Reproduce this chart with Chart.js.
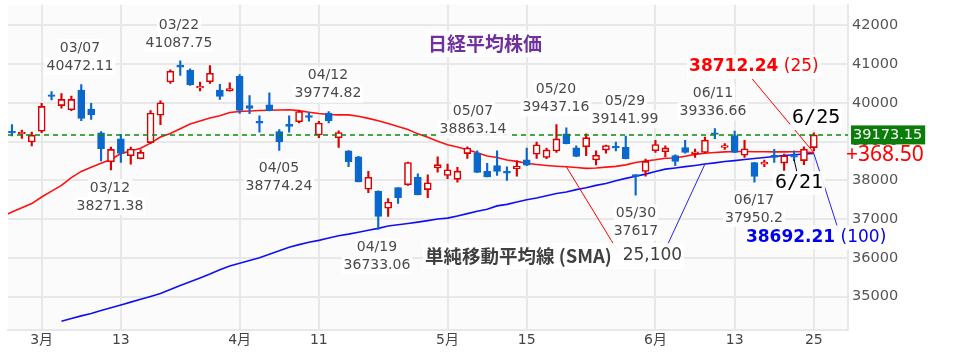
<!DOCTYPE html>
<html>
<head>
<meta charset="utf-8">
<script src="https://cdn.jsdelivr.net/npm/chart.js@4.4.1/dist/chart.umd.min.js"></script>
<style>
  html, body { margin: 0; padding: 0; background: #fff; }
  #caja { width: 967px; height: 355px; }
</style>
</head>
<body>
<div id="caja"><canvas id="grafica" width="967" height="355"></canvas></div>
<script>
// dias de negociacion (02/26 solo lleva la media de 25)
const fechas = ["02/26","02/27","02/28","02/29","03/01","03/04","03/05","03/06","03/07","03/08",
  "03/11","03/12","03/13","03/14","03/15","03/18","03/19","03/21","03/22","03/25",
  "03/26","03/27","03/28","03/29","04/01","04/02","04/03","04/04","04/05","04/08",
  "04/09","04/10","04/11","04/12","04/15","04/16","04/17","04/18","04/19","04/22",
  "04/23","04/24","04/25","04/26","04/30","05/01","05/02","05/07","05/08","05/09",
  "05/10","05/13","05/14","05/15","05/16","05/17","05/20","05/21","05/22","05/23",
  "05/24","05/27","05/28","05/29","05/30","05/31","06/03","06/04","06/05","06/06",
  "06/07","06/10","06/11","06/12","06/13","06/14","06/17","06/18","06/19","06/20",
  "06/21","06/24","06/25"];

const apertura = [null, 39265, 39200, 38990, 39270, 40210, 39930, 39825, 40330, 39840,
  39225, 38480, 39075, 38635, 38560, 38975, 39680, 40540, 40975, 40840,
  40385, 40545, 40330, 40310, 40685, 39930, 39525, 39950, 39260, 39445,
  39510, 39670, 39170, 39740, 39100, 38760, 38610, 37770, 37725, 37280,
  37810, 37885, 38080, 37760, 38320, 38125, 38025, 38690, 38700, 38235,
  38380, 38235, 38300, 38530, 38675, 38590, 38760, 39200, 38840, 38865,
  38525, 38780, 38880, 38860, 38150, 38230, 38765, 38740, 38640, 38845,
  38690, 38720, 39230, 38850, 39155, 38650, 38460, 38420, 38645, 38446,
  38640, 38510, 38845];

const maximo = [null, 39440, 39300, 39245, 39990, 40290, 40240, 40175, 40472.11, 39990,
  39260, 38860, 39185, 38860, 38790, 39800, 40050, 40855, 41087.75, 40880,
  40540, 40965, 40480, 40520, 40730, 40186, 39667, 40262, 39310, 39667,
  39800, 39755, 39525, 39774.82, 39280, 38770, 38620, 38235, 37730, 37530,
  37815, 38470, 38166, 38145, 38610, 38420, 38335, 38863.14, 38760, 38440,
  38760, 38350, 38505, 38830, 38990, 38830, 39437.16, 39355, 38890, 39200,
  38760, 38910, 38990, 39141.99, 38150, 38550, 39030, 38890, 38660, 39030,
  38810, 39115, 39336.66, 38950, 39270, 39030, 38465, 38525, 38800, 38680,
  38760, 38863, 39226];

const minimo = [null, 39150, 39080, 38890, 39230, 40075, 39865, 39800, 39540, 39570,
  38500, 38271.38, 38465, 38420, 38550, 38955, 39440, 40500, 40710, 40450,
  40310, 40500, 40090, 40300, 39730, 39720, 39245, 39795, 38774.24, 39245,
  39480, 39525, 39100, 39480, 38850, 38355, 37960, 37680, 36733.06, 37065,
  37405, 37870, 37625, 37555, 38210, 38040, 37955, 38565, 38200, 38085,
  38125, 38000, 38110, 38380, 38565, 38560, 38718, 38940, 38610, 38635,
  38400, 38700, 38760, 38550, 37617, 38110, 38720, 38610, 38380, 38700,
  38590, 38715, 39075, 38800, 38715, 38590, 37950.2, 38355, 38465, 38255,
  38505, 38405, 38760];

const cierre = [null, 39225, 39245, 39166, 39910, 40165, 40090, 40090, 39600, 39690,
  38820, 38800, 38696, 38807, 38720, 39740, 40004, 40815, 40925, 40470,
  40430, 40763, 40168, 40370, 39803, 39860, 39475, 39800, 38992, 39395,
  39775, 39625, 39480, 39540, 39235, 38480, 37962, 38080, 37068, 37438,
  37552, 38460, 37628, 37935, 38405, 38274, 38236, 38835, 38202, 38090,
  38229, 38185, 38370, 38390, 38920, 38787, 39070, 38950, 38617, 39103,
  38646, 38900, 38840, 38557, 38100, 38488, 38923, 38837, 38490, 38720,
  38735, 39038, 39185, 38895, 38720, 38815, 38102, 38470, 38590, 38633,
  38595, 38805, 39173.15];

const sma25 = [37060, 37180, 37290, 37400, 37570, 37720, 37870, 38070, 38230, 38340,
  38440, 38540, 38690, 38760, 38830, 38960, 39120, 39210, 39330, 39455,
  39530, 39608, 39670, 39750, 39779, 39790, 39804, 39810, 39815, 39821,
  39800, 39760, 39725, 39700, 39690, 39690, 39655, 39600, 39540, 39470,
  39390, 39310, 39200, 39110, 39010, 38920, 38860, 38790, 38710, 38630,
  38590, 38525, 38490, 38440, 38410, 38385, 38365, 38350, 38330, 38310,
  38320, 38340, 38360, 38400, 38460, 38500, 38530, 38570, 38575, 38620,
  38670, 38700, 38718, 38735, 38743, 38743, 38740, 38738, 38735, 38735,
  38738, 38740, 38712.24];

const sma100 = [null, null, null, null, null, null, 34360, 34430, 34500, 34560,
  34640, 34710, 34780, 34855, 34930, 35000, 35075, 35180, 35285, 35380,
  35478, 35580, 35690, 35790, 35860, 35930, 36000, 36090, 36180, 36270,
  36340, 36400, 36450, 36510, 36570, 36610, 36660, 36710, 36760, 36820,
  36855, 36885, 36920, 36960, 37000, 37025, 37080, 37140, 37200, 37255,
  37340, 37380, 37440, 37500, 37545, 37600, 37660, 37700, 37760, 37810,
  37870, 37920, 37990, 38050, 38105, 38160, 38230, 38290, 38320, 38355,
  38385, 38420, 38450, 38485, 38510, 38540, 38565, 38590, 38615, 38640,
  38660, 38680, 38692.21];

const fechasEje = ["03/01","03/13","04/01","04/11","05/01","05/15","06/03","06/13","06/25"];
const etiquetasEje = ["3月","13","4月","11","5月","15","6月","13","25"];
const valoresEje = [35000, 36000, 37000, 38000, 39000, 40000, 41000, 42000];

const marcas = [["03/07","40472.11"],["03/22","41087.75"],["03/12","38271.38"],["04/05","38774.24"],
  ["04/12","39774.82"],["05/07","38863.14"],["04/19","36733.06"],["05/20","39437.16"],
  ["05/29","39141.99"],["06/11","39336.66"],["05/30","37617"],["06/17","37950.2"]];

const titulo = "日経平均株価";
const textoSMA = "単純移動平均線 (SMA)";
const periodosSMA = "25,100";
const cambio = "+368.50";

const ROJO = "#dd0000";
const AZUL = "#0a68cc";
const fuente = "'DejaVu Sans', 'Noto Sans CJK JP', sans-serif";
const fuenteJP = "'Noto Sans CJK JP', sans-serif";

const tickPos = fechasEje.map(f => fechas.indexOf(f));
const nUlt = fechas.length - 1;
const nCierre = cierre[nUlt];

let mechas = [], cuerpos = [], colMecha = [], colCuerpo = [], colBorde = [];
for (let k = 0; k < fechas.length; k++) {
  if (apertura[k] === null) continue;
  let sube = cierre[k] >= apertura[k];
  mechas.push({ x: k, y: [minimo[k], maximo[k]] });
  cuerpos.push({ x: k, y: [Math.min(apertura[k], cierre[k]), Math.max(apertura[k], cierre[k])] });
  colMecha.push(sube ? ROJO : AZUL);
  colBorde.push(sube ? ROJO : AZUL);
  colCuerpo.push(sube ? "#ffffff" : AZUL);
}
let linea25 = [], linea100 = [];
for (let k = 0; k < fechas.length; k++) {
  if (sma25[k] !== null) linea25.push({ x: k, y: sma25[k] });
  if (sma100[k] !== null) linea100.push({ x: k, y: sma100[k] });
}

// texto con fondo blanco, partes = [[texto, font, color], ...]
function texto(ctx, partes, x, y, alto, alinear) {
  let ancho = 0;
  partes.forEach(p => { ctx.font = p[1]; p.w = ctx.measureText(p[0]).width; ancho += p.w; });
  let x0 = alinear === "center" ? x - ancho / 2 : x;
  ctx.fillStyle = "rgba(255,255,255,0.9)";
  ctx.fillRect(x0 - 2, y - alto / 2, ancho + 4, alto);
  ctx.textAlign = "left";
  ctx.textBaseline = "middle";
  partes.forEach(p => { ctx.font = p[1]; ctx.fillStyle = p[2]; ctx.fillText(p[0], x0, y); x0 += p.w; });
}

const notas = {
  id: "notas",
  beforeDraw(chart) {
    const a = chart.chartArea, ctx = chart.ctx;
    ctx.save();
    ctx.fillStyle = "#fbfbfb";
    ctx.fillRect(a.left, a.top, a.right - a.left, a.bottom - a.top);
    ctx.restore();
  },
  afterDatasetsDraw(chart) {
    const ctx = chart.ctx, a = chart.chartArea;
    const px = v => chart.scales.x.getPixelForValue(v);
    const py = v => chart.scales.y.getPixelForValue(v);
    ctx.save();

    // linea del ultimo cierre
    ctx.strokeStyle = "#0a8a0a";
    ctx.lineWidth = 1.5;
    ctx.setLineDash([5, 4]);
    ctx.beginPath();
    ctx.moveTo(a.left, py(nCierre));
    ctx.lineTo(a.right, py(nCierre));
    ctx.stroke();
    ctx.setLineDash([]);

    // lineas guia
    const guia = (x1, y1, x2, y2, color) => {
      ctx.strokeStyle = color; ctx.lineWidth = 1;
      ctx.beginPath(); ctx.moveTo(px(x1), py(y1)); ctx.lineTo(px(x2), py(y2)); ctx.stroke();
    };
    guia(nUlt, sma25[nUlt], 75.75, 40626, "#ff0000");
    guia(nUlt, sma100[nUlt], 84.53, 36681, "#2222ee");
    guia(57, sma25[57], 62.2, 36172, "#ff0000");
    guia(71, sma100[71], 67.06, 36248, "#2222ee");
    guia(80, 38539, 80.3, 38208, "#000000");

    // maximos y minimos
    const posMarcas = [[7.87, 41415], [17.87, 42000], [10.9, 37800], [27.97, 38310],
      [32.92, 40702], [47.57, 39786], [37.87, 36274], [55.95, 40346],
      [62.92, 40040], [71.81, 40244], [64.03, 37139], [75.95, 37495]];
    marcas.forEach((m, i) => {
      let x = px(posMarcas[i][0]), y = py(posMarcas[i][1]);
      texto(ctx, [[m[0], "14px " + fuente, "#4a4a4a"]], x, y, 18, "center");
      texto(ctx, [[m[1], "14px " + fuente, "#4a4a4a"]], x, y + 18, 18, "center");
    });

    texto(ctx, [[titulo, "bold 19px " + fuenteJP, "#7030a0"]], px(48.78), py(41516), 26, "center");
    texto(ctx, [[sma25[nUlt].toFixed(2), "bold 17px " + fuente, "#ff0000"],
      [" (25)", "17px " + fuente, "#ff0000"]], px(69.4), py(40931), 24, "left");
    texto(ctx, [["6/25", "20px 'DejaVu Sans Mono', monospace", "#000000"]], px(79.8), py(39608), 24, "left");
    texto(ctx, [["6/21", "20px 'DejaVu Sans Mono', monospace", "#000000"]], px(78.07), py(37928), 24, "left");
    texto(ctx, [[sma100[nUlt].toFixed(2), "bold 17px " + fuente, "#0000ee"],
      [" (100)", "17px " + fuente, "#0000ee"]], px(75.14), py(36528), 24, "left");
    texto(ctx, [[textoSMA, "bold 18.5px " + fuenteJP, "#404040"],
      ["  " + periodosSMA, "17px " + fuente, "#404040"]], px(42.72), py(36045), 26, "left");

    // ultimo valor y variacion a la derecha
    let yc = py(nCierre);
    ctx.font = "14.5px " + fuente;
    let w = ctx.measureText(nCierre.toFixed(2)).width;
    ctx.fillStyle = "#0a7d0a";
    ctx.fillRect(a.right + 3, yc - 9.5, w + 5, 19);
    ctx.fillStyle = "#ffffff";
    ctx.textAlign = "left";
    ctx.textBaseline = "middle";
    ctx.fillText(nCierre.toFixed(2), a.right + 5, yc);
    ctx.font = "21px 'Noto Sans', sans-serif";
    ctx.fillStyle = "#ff0000";
    ctx.fillText(cambio, a.right - 2, yc + 20);

    ctx.restore();
  }
};

new Chart(document.getElementById("grafica"), {
  type: "bar",
  data: {
    datasets: [
      {
        type: "bar",
        label: "cuerpo",
        data: cuerpos,
        backgroundColor: colCuerpo,
        borderColor: colBorde,
        borderWidth: 1.6,
        borderSkipped: false,
        barThickness: 7,
        grouped: false,
        order: 0,
      },
      {
        type: "bar",
        label: "mecha",
        data: mechas,
        backgroundColor: colMecha,
        borderWidth: 0,
        barThickness: 1.5,
        grouped: false,
        order: 1,
      },
      {
        type: "line",
        label: "SMA25",
        data: linea25,
        borderColor: "#ff1010",
        borderWidth: 1.6,
        pointRadius: 0,
        fill: false,
        tension: 0,
        order: 2,
      },
      {
        type: "line",
        label: "SMA100",
        data: linea100,
        borderColor: "#1010f0",
        borderWidth: 1.6,
        pointRadius: 0,
        fill: false,
        tension: 0,
        order: 3,
      },
    ],
  },
  options: {
    responsive: false,
    animation: false,
    devicePixelRatio: 1,
    layout: { padding: { left: 8, right: 0, top: 0, bottom: 0 } },
    plugins: { legend: { display: false }, tooltip: { enabled: false }, title: { display: false } },
    scales: {
      x: {
        type: "linear",
        min: 0.6,
        max: 85.45,
        offset: false,
        grid: { color: "#e8e8e8", lineWidth: 2, drawTicks: false, offset: false },
        border: { display: true, color: "#e8e8e8", width: 2 },
        afterBuildTicks: s => { s.ticks = tickPos.map(v => ({ value: v })); },
        afterFit: s => { s.height = 25; },
        ticks: {
          autoSkip: false,
          maxRotation: 0,
          padding: 2,
          color: "#444",
          font: { family: fuente, size: 14 },
          callback: v => etiquetasEje[tickPos.indexOf(v)],
        },
      },
      y: {
        position: "right",
        min: 34135,
        max: 42535,
        grid: { color: "#e8e8e8", lineWidth: 2, drawTicks: false },
        border: { display: true, color: "#e8e8e8", width: 2 },
        afterBuildTicks: s => { s.ticks = valoresEje.map(v => ({ value: v })); },
        afterFit: s => { s.width = 119; },
        ticks: {
          padding: 4,
          color: "#555",
          font: { family: fuente, size: 14.5, lineHeight: 0.1 },
          callback: v => String(v),
        },
      },
    },
  },
  plugins: [notas],
});
</script>
</body>
</html>
